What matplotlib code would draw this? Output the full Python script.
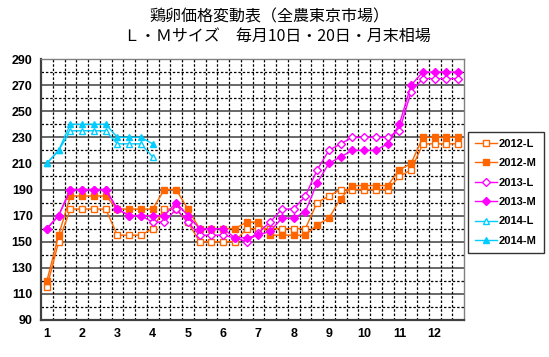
import numpy as np
import matplotlib
matplotlib.use("Agg")
import matplotlib.pyplot as plt

plt.rcParams['font.family'] = ['Liberation Sans', 'Noto Sans CJK JP', 'DejaVu Sans']

# 毎月10日・20日・月末 -> 3 points per month
months = [str(m) for m in range(1, 13)]
yticks = list(range(90, 291, 20))

l2012 = [115, 150, 175, 175, 175, 175, 155, 155, 155, 160, 175, 175, 165,
	150, 150, 150, 150, 160, 160, 160, 160, 160, 160, 180, 185, 190,
	190, 190, 190, 190, 200, 205, 225, 225, 225, 225]
m2012 = [120, 155, 185, 185, 185, 185, 175, 175, 175, 175, 190, 190, 175,
	160, 160, 160, 160, 165, 165, 155, 155, 155, 155, 163, 168, 183,
	193, 193, 193, 193, 205, 210, 230, 230, 230, 230]
l2013 = [160, 170, 190, 190, 190, 190, 175, 170, 170, 165, 165, 175, 165,
	155, 155, 155, 153, 150, 157, 165, 175, 175, 185, 205, 220, 225,
	230, 230, 230, 230, 235, 265, 275, 275, 275, 275]
m2013 = [160, 170, 190, 190, 190, 190, 175, 170, 170, 170, 170, 180, 170,
	160, 160, 160, 153, 153, 155, 158, 168, 168, 173, 195, 210, 215,
	220, 220, 220, 225, 240, 270, 280, 280, 280, 280]
l2014 = [210, 220, 235, 235, 235, 235, 225, 225, 225, 215]
m2014 = [210, 220, 240, 240, 240, 240, 230, 230, 230, 225]

ORANGE = '#FF6600'
MAGENTA = '#FF00FF'
CYAN = '#00CCFF'

series = [
	("2012-L", l2012, ORANGE, 's', False, 5),
	("2012-M", m2012, ORANGE, 's', True, 5),
	("2013-L", l2013, MAGENTA, 'D', False, 4),
	("2013-M", m2013, MAGENTA, 'D', True, 4),
	("2014-L", l2014, CYAN, '^', False, 5),
	("2014-M", m2014, CYAN, '^', True, 5),
]


def plot_prices(file_path="out"):
	fig = plt.figure(figsize=(5.49, 3.57), dpi=100)
	ax = fig.add_axes([41/549., 1-320/357., 423/549., 261/357.])

	n = 36
	ax.set_xlim(-0.5, n - 0.5)
	ax.set_ylim(90, 290)

	# grid: dashed every 10 and every category boundary, solid every 20
	for y in range(100, 290, 20):
		ax.axhline(y, color='black', lw=0.9, ls=(0, (2, 1.5)), zorder=0)
	for y in range(110, 290, 20):
		ax.axhline(y, color='#404040', lw=1.1, zorder=0)
	for x in np.arange(0.5, n - 0.5, 1):
		ax.axvline(x, color='black', lw=0.9, ls=(0, (2, 1.5)), zorder=0)

	for label, vals, col, mk, filled, ms in series:
		xs = np.arange(len(vals))
		ax.plot(xs, vals, color=col, lw=1.0, marker=mk, markersize=ms,
			markerfacecolor=col if filled else 'white', markeredgecolor=col,
			markeredgewidth=1.0, label=label, zorder=3)

	ax.set_xticks(np.arange(0, n, 3))
	ax.set_xticklabels(months)
	ax.set_yticks(yticks)
	ax.tick_params(length=0, labelsize=9, pad=6)
	for lab in ax.get_xticklabels() + ax.get_yticklabels():
		lab.set_fontweight('bold')

	for s in ['top', 'right']:
		ax.spines[s].set_color('#808080')
		ax.spines[s].set_linewidth(1.0)
	for s in ['left', 'bottom']:
		ax.spines[s].set_color('#404040')
		ax.spines[s].set_linewidth(1.6)

	fig.text(0.49, 1-17/357., u"鶏卵価格変動表（全農東京市場）", ha='center', va='center',
		fontsize=11.5, family=['Noto Sans CJK JP', 'DejaVu Sans'])
	fig.text(0.505, 1-36/357., u"Ｌ・Ｍサイズ　毎月10日・20日・月末相場", ha='center', va='center',
		fontsize=11.5, family=['Noto Sans CJK JP', 'DejaVu Sans'])

	handles, labels = ax.get_legend_handles_labels()
	leg = fig.legend(handles, labels, loc='upper left', bbox_to_anchor=(468/549., 1-132/357.),
		fontsize=8, frameon=True, fancybox=False, edgecolor='black', handlelength=2.0,
		handletextpad=0.2, labelspacing=0.85, borderpad=0.6, borderaxespad=0)
	leg.get_frame().set_linewidth(1.0)
	for t in leg.get_texts():
		t.set_fontweight('bold')

	plt.savefig("%s.png" % file_path, dpi=100)


if __name__ == "__main__":
	plot_prices()
